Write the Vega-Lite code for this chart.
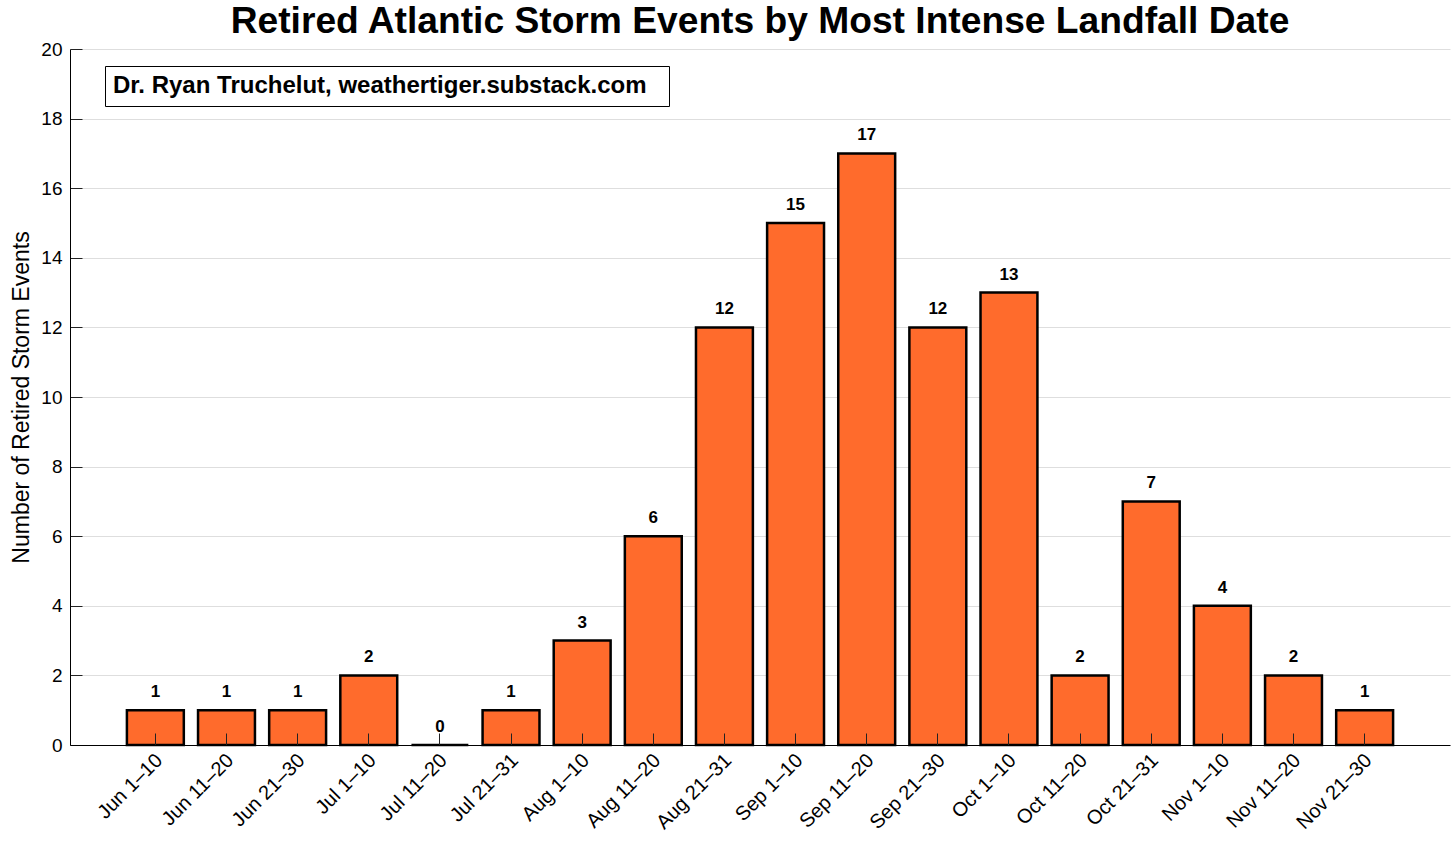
{
  "$schema": "https://vega.github.io/schema/vega-lite/v6.json",
  "width": 1380,
  "height": 696,
  "autosize": "none",
  "padding": {"left": 70, "top": 49, "right": 6, "bottom": 98},
  "background": "white",
  "title": {
    "text": "Retired Atlantic Storm Events by Most Intense Landfall Date",
    "font": "Liberation Sans",
    "fontSize": 37.2,
    "fontWeight": "bold",
    "color": "black",
    "anchor": "middle",
    "offset": -1
  },
  "config": {
    "view": {"stroke": null},
    "font": "Liberation Sans"
  },
  "data": {
    "values": [
      {"period": "Jun 1–10", "count": 1},
      {"period": "Jun 11–20", "count": 1},
      {"period": "Jun 21–30", "count": 1},
      {"period": "Jul 1–10", "count": 2},
      {"period": "Jul 11–20", "count": 0},
      {"period": "Jul 21–31", "count": 1},
      {"period": "Aug 1–10", "count": 3},
      {"period": "Aug 11–20", "count": 6},
      {"period": "Aug 21–31", "count": 12},
      {"period": "Sep 1–10", "count": 15},
      {"period": "Sep 11–20", "count": 17},
      {"period": "Sep 21–30", "count": 12},
      {"period": "Oct 1–10", "count": 13},
      {"period": "Oct 11–20", "count": 2},
      {"period": "Oct 21–31", "count": 7},
      {"period": "Nov 1–10", "count": 4},
      {"period": "Nov 11–20", "count": 2},
      {"period": "Nov 21–30", "count": 1}
    ]
  },
  "encoding": {
    "x": {
      "field": "period",
      "type": "nominal",
      "sort": null,
      "scale": {"paddingInner": 0.2, "paddingOuter": 0.8},
      "axis": {
        "title": null,
        "labelAngle": -45,
        "labelAlign": "right",
        "labelBaseline": "middle",
        "labelFontSize": 20,
        "labelColor": "black",
        "labelPadding": 24,
        "labelOffset": 4,
        "tickSize": -12,
        "tickColor": "#222",
        "tickWidth": 1,
        "domainColor": "black",
        "domainWidth": 1,
        "zindex": 1
      }
    },
    "y": {
      "field": "count",
      "type": "quantitative",
      "scale": {"domain": [0, 20], "nice": false},
      "axis": {
        "title": "Number of Retired Storm Events",
        "titleFontSize": 23,
        "titleFontWeight": "normal",
        "titleColor": "black",
        "titlePadding": 7,
        "values": [0, 2, 4, 6, 8, 10, 12, 14, 16, 18, 20],
        "labelFontSize": 19,
        "labelColor": "black",
        "labelPadding": 20,
        "tickSize": -12,
        "tickColor": "#222",
        "domainColor": "black",
        "grid": true,
        "gridColor": "#dedede",
        "gridWidth": 1
      }
    }
  },
  "layer": [
    {
      "mark": {"type": "bar", "stroke": "black", "strokeWidth": 2.5},
      "encoding": {
        "color": {
          "datum": "Dr. Ryan Truchelut, weathertiger.substack.com",
          "scale": {"range": ["#ff6b2c"]},
          "legend": {
            "title": "\u00a0",
            "titleOrient": "right",
            "titlePadding": 14,
            "titleFontSize": 4,
            "orient": "none",
            "legendX": 35,
            "legendY": 17,
            "symbolSize": 0,
            "symbolOpacity": 0,
            "symbolStrokeWidth": 0,
            "labelFontSize": 24,
            "labelFontWeight": "bold",
            "labelColor": "black",
            "labelLimit": 900,
            "labelOffset": -24,
            "strokeColor": "black",
            "fillColor": "white",
            "padding": 8
          }
        }
      }
    },
    {
      "mark": {
        "type": "text",
        "baseline": "alphabetic",
        "dy": -13,
        "fontSize": 17,
        "fontWeight": "bold",
        "color": "black"
      },
      "encoding": {"text": {"field": "count", "type": "quantitative"}}
    }
  ]
}
